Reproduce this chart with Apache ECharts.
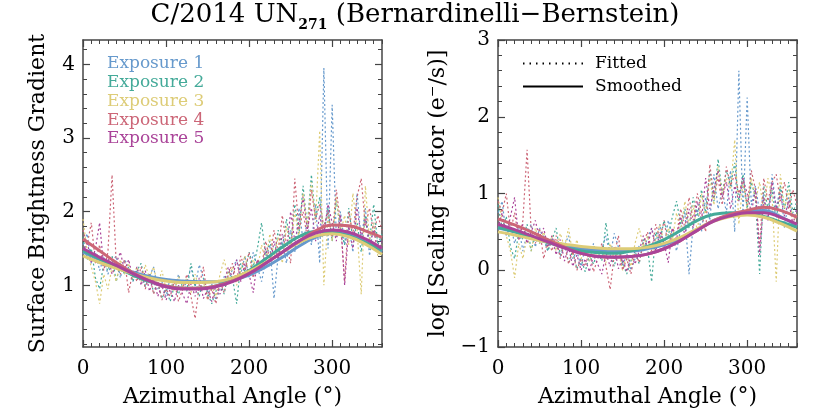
<!DOCTYPE html>
<html><head><meta charset="utf-8">
<script src="https://cdn.jsdelivr.net/npm/echarts@6/dist/echarts.min.js"></script>
<style>html,body{margin:0;padding:0;background:#fff}#c{width:830px;height:414px}</style>
</head><body><div id="c"></div>
<script>
// ---------- data ----------
const angles = [0,5,10,15,20,25,30,35,40,45,50,55,60,65,70,75,80,85,90,95,100,105,110,115,120,125,130,135,140,145,150,155,160,165,170,175,180,185,190,195,200,205,210,215,220,225,230,235,240,245,250,255,260,265,270,275,280,285,290,295,300,305,310,315,320,325,330,335,340,345,350,355,360];
const smoothAngles = [0,20,40,60,80,100,120,140,160,180,200,220,240,260,280,300,320,340,360];
const exposureNames = ['Exposure 1','Exposure 2','Exposure 3','Exposure 4','Exposure 5'];

// Left panel: surface brightness gradient, fitted (noisy)
const sbgFit1 = [1.55,1.70,1.30,1.45,1.20,1.38,1.15,1.32,1.40,1.10,
1.35,1.25,1.05,1.22,1.15,0.98,1.12,1.25,0.95,1.05,
0.85,1.10,0.92,1.15,0.95,1.05,1.25,0.98,1.28,1.10,
0.85,1.02,0.80,0.95,1.12,1.05,1.22,1.35,1.15,1.40,
1.10,1.45,1.25,1.05,1.35,1.55,0.82,1.40,1.60,1.30,
1.75,1.45,2.05,1.60,1.85,1.55,2.10,1.30,3.95,1.50,
3.45,1.65,2.00,1.55,1.80,1.45,2.25,1.60,2.05,1.40,
1.85,1.55,1.65];
const sbgFit2 = [1.65,1.35,1.50,1.10,0.95,1.30,1.20,1.40,1.05,1.30,
1.15,1.25,1.05,1.20,1.30,1.00,1.15,0.90,1.05,0.82,
0.95,0.78,1.00,0.88,1.05,0.92,1.30,1.00,0.85,1.10,
0.90,0.75,0.92,1.05,0.88,1.20,1.10,0.75,1.30,1.18,
1.45,1.25,1.50,1.85,1.40,1.60,1.35,1.75,1.50,1.90,
1.55,2.10,1.70,2.35,1.80,2.50,1.90,2.20,1.70,2.05,
1.60,2.15,1.75,1.55,2.05,1.60,1.85,1.45,1.95,1.60,
2.10,1.55,1.70];
const sbgFit3 = [1.90,1.45,1.25,1.05,0.75,1.15,0.95,1.25,1.05,1.35,
1.15,1.30,1.10,1.25,1.05,1.28,1.10,1.25,1.00,1.20,
0.95,1.08,0.92,1.12,0.98,1.10,0.90,1.15,0.95,1.05,
0.80,1.00,0.85,1.15,1.35,1.10,1.25,1.00,1.20,1.40,
1.15,1.35,1.20,1.55,1.30,1.70,1.40,1.65,1.30,1.80,
1.50,2.00,1.65,2.25,1.80,2.40,1.85,3.10,1.00,1.95,
1.60,2.20,1.70,1.95,1.55,2.25,1.75,0.88,2.35,1.60,
1.85,1.40,1.55];
const sbgFit4 = [1.75,1.55,1.85,1.30,1.55,1.20,1.45,2.50,1.30,1.15,
1.35,0.90,1.20,1.05,1.25,0.95,1.15,0.88,1.05,0.80,
0.95,0.85,1.05,0.78,0.95,1.15,0.85,0.55,1.00,1.25,
0.80,0.95,0.75,1.05,0.90,1.15,1.30,1.05,1.40,1.20,
1.45,1.10,1.35,1.25,1.60,1.35,1.75,1.45,1.95,1.55,
1.30,2.45,1.75,2.00,1.65,2.30,1.90,2.10,1.80,2.00,
1.65,2.30,1.85,1.05,2.00,1.70,2.20,2.45,1.80,2.05,
1.70,1.95,1.75];
const sbgFit5 = [1.45,1.60,1.30,1.50,1.85,1.25,1.40,1.15,1.30,1.45,
1.20,1.35,1.10,1.25,1.00,1.20,0.92,1.10,0.85,1.00,
0.80,0.95,0.78,1.00,0.88,0.75,1.02,0.85,1.10,0.82,
0.95,0.78,1.00,0.88,1.05,1.25,1.10,1.35,1.05,1.30,
1.15,0.90,1.35,1.20,1.50,1.25,1.60,1.35,1.70,1.45,
2.00,1.60,1.85,2.20,1.75,2.05,1.60,1.95,1.70,2.10,
1.85,1.60,1.95,1.00,1.80,1.50,2.05,1.65,1.90,1.55,
1.75,1.45,1.60];

// Left panel: smoothed
const sbgSm1 = [1.45,1.35,1.26,1.18,1.12,1.08,1.06,1.05,1.05,1.07,1.14,1.25,1.38,1.53,1.65,1.71,1.69,1.59,1.46];
const sbgSm2 = [1.47,1.36,1.25,1.14,1.05,0.99,0.96,0.96,0.99,1.07,1.20,1.36,1.52,1.66,1.73,1.72,1.67,1.58,1.48];
const sbgSm3 = [1.40,1.31,1.23,1.16,1.10,1.06,1.04,1.04,1.05,1.10,1.19,1.31,1.45,1.58,1.67,1.70,1.66,1.56,1.42];
const sbgSm4 = [1.63,1.47,1.31,1.17,1.06,0.99,0.96,0.96,0.99,1.06,1.16,1.30,1.45,1.60,1.74,1.82,1.81,1.74,1.65];
const sbgSm5 = [1.50,1.38,1.27,1.16,1.06,0.98,0.95,0.95,0.98,1.05,1.16,1.30,1.45,1.60,1.71,1.75,1.72,1.63,1.50];

// Right panel: log scaling factor, fitted (noisy)
const lsfFit1 = [0.75,0.90,0.45,0.60,0.35,0.55,0.25,0.48,0.60,0.30,
0.55,0.40,0.25,0.42,0.35,0.18,0.32,0.45,0.15,0.25,
0.05,0.30,0.12,0.35,0.15,0.28,0.45,0.18,0.48,0.30,
0.05,0.22,0.00,0.15,0.32,0.25,0.42,0.55,0.35,0.60,
0.30,0.65,0.45,0.25,0.55,0.75,-0.05,0.60,0.80,0.50,
0.95,0.65,1.25,0.80,1.05,0.75,1.30,0.50,2.60,0.70,
2.25,0.85,1.10,0.75,1.00,0.65,1.25,0.80,1.10,0.55,
0.95,0.70,0.80];
const lsfFit2 = [0.85,0.55,0.70,0.30,0.15,0.50,0.40,0.60,0.25,0.50,
0.35,0.45,0.25,0.40,0.55,0.20,0.35,0.10,0.25,0.02,
0.15,-0.02,0.20,0.08,0.25,0.12,0.62,0.20,0.05,0.30,
0.10,-0.05,0.12,0.25,0.08,0.40,0.30,-0.15,0.50,0.38,
0.65,0.45,0.70,0.90,0.60,0.80,0.55,0.95,0.70,1.05,
0.75,1.30,0.90,1.45,1.00,1.30,1.10,1.40,0.90,1.25,
0.80,1.15,0.95,-0.05,1.10,0.80,1.05,0.65,1.10,0.80,
1.15,0.75,0.90];
const lsfFit3 = [0.95,0.65,0.45,0.25,-0.10,0.35,0.15,0.45,0.25,0.55,
0.35,0.50,0.30,0.45,0.25,0.48,0.30,0.55,0.20,0.40,
0.15,0.28,0.12,0.32,0.18,0.30,0.10,0.35,0.15,0.25,
0.00,0.20,0.05,0.35,0.55,0.30,0.45,0.20,0.40,0.60,
0.35,0.55,0.40,0.75,0.50,0.90,0.60,0.85,0.50,1.00,
0.70,1.20,0.85,1.35,1.00,1.20,1.05,1.70,0.60,1.15,
0.80,1.20,0.90,1.15,0.75,1.20,0.95,-0.15,1.25,0.80,
1.05,0.60,0.75];
const lsfFit4 = [0.90,0.75,1.00,0.50,0.75,0.40,0.65,1.57,0.50,0.35,
0.55,0.15,0.40,0.25,0.45,0.15,0.35,0.08,0.25,0.00,
0.15,0.05,0.25,-0.02,0.15,0.35,0.05,-0.25,0.20,0.45,
0.00,0.15,-0.05,0.25,0.10,0.35,0.50,0.25,0.60,0.40,
0.65,0.30,0.55,0.45,0.80,0.55,0.95,0.65,1.00,0.75,
0.50,1.38,0.95,1.20,0.85,1.35,1.10,1.25,1.00,1.20,
0.85,1.30,1.05,0.30,1.20,0.90,1.15,1.25,0.90,1.15,
0.80,1.05,0.85];
const lsfFit5 = [0.55,0.75,0.45,0.70,0.95,0.40,0.60,0.35,0.50,0.65,
0.40,0.55,0.30,0.45,0.20,0.40,0.12,0.30,0.05,0.20,
0.00,0.15,-0.02,0.20,0.08,-0.05,0.22,0.05,0.30,0.02,
0.15,-0.02,0.20,0.08,0.25,0.45,0.30,0.55,0.25,0.50,
0.35,0.10,0.55,0.40,0.70,0.45,0.80,0.55,0.90,0.65,
1.20,0.80,1.05,1.30,0.95,1.15,0.80,1.10,0.90,1.20,
1.00,0.75,1.05,0.20,0.95,0.65,1.15,0.80,1.00,0.70,
0.90,0.60,0.80];

// Right panel: smoothed
const lsfSm1 = [0.55,0.50,0.43,0.37,0.32,0.28,0.26,0.25,0.25,0.28,0.33,0.42,0.53,0.65,0.72,0.77,0.78,0.70,0.58];
const lsfSm2 = [0.56,0.50,0.43,0.36,0.30,0.25,0.23,0.22,0.25,0.31,0.40,0.52,0.65,0.73,0.75,0.74,0.70,0.63,0.56];
const lsfSm3 = [0.50,0.46,0.41,0.37,0.34,0.31,0.29,0.28,0.28,0.30,0.35,0.43,0.54,0.64,0.70,0.72,0.69,0.61,0.51];
const lsfSm4 = [0.67,0.59,0.50,0.40,0.30,0.22,0.18,0.17,0.18,0.21,0.28,0.39,0.52,0.65,0.73,0.78,0.82,0.78,0.69];
const lsfSm5 = [0.60,0.53,0.45,0.37,0.29,0.22,0.18,0.17,0.18,0.21,0.28,0.39,0.52,0.64,0.71,0.75,0.75,0.69,0.60];

const xTicks = [0,100,200,300];
const leftYTicks = [1,2,3,4];
const rightYTicks = [-1,0,1,2,3];

// ---------- styling ----------
const colors = ['#6699CC','#44AA99','#DDCC77','#CC6677','#AA4499'];
const FONT = 'DejaVu Serif';
const AX = '#444';
const leftFit = [sbgFit1,sbgFit2,sbgFit3,sbgFit4,sbgFit5];
const leftSm = [sbgSm1,sbgSm2,sbgSm3,sbgSm4,sbgSm5];
const rightFit = [lsfFit1,lsfFit2,lsfFit3,lsfFit4,lsfFit5];
const rightSm = [lsfSm1,lsfSm2,lsfSm3,lsfSm4,lsfSm5];

const L = {left:83, top:40, width:299, height:307};
const R = {left:498, top:40, width:299, height:307};
const grids = [L, L, R, R].map(g => Object.assign({outerBoundsMode:'none', containLabel:false}, g));

const leftMin = 0.163, leftMax = 4.33;
const leftMinor = []; for (let v = 0.2; v < 4.3; v += 0.2) leftMinor.push(+v.toFixed(1));

function xMain(gi, pos, withLabel) {
  return {
    gridIndex: gi, type:'value', position: pos, min:0, max:360,
    axisLine:{show:true, onZero:false, lineStyle:{color:AX, width:1.5}},
    axisTick:{show:true, inside:true, length:7, customValues:xTicks, lineStyle:{color:AX, width:1.2}},
    axisLabel:{show:withLabel, customValues:xTicks, fontFamily:FONT, fontSize:20, color:'#000', margin:12},
    splitLine:{show:false},
    name: withLabel ? 'Azimuthal Angle (°)' : '', nameLocation:'middle', nameGap:39,
    nameTextStyle:{fontFamily:FONT, fontSize:22, color:'#000'}
  };
}
function xMinor(gi, pos) {
  return {
    gridIndex: gi, type:'value', position: pos, min:0, max:360, interval:10,
    axisLine:{show:false, onZero:false}, axisLabel:{show:false}, splitLine:{show:false},
    axisTick:{show:true, inside:true, length:4, lineStyle:{color:AX, width:1}}
  };
}
const minusFmt = v => String(v).replace('-', '\u2212');
function yMain(gi, pos, side, withLabel) {
  const isLeft = side === 'L';
  const base = {
    gridIndex: gi, type:'value', position: pos,
    axisLine:{show:true, onZero:false, lineStyle:{color:AX, width:1.5}},
    splitLine:{show:false},
    nameLocation:'middle',
    nameTextStyle:{fontFamily:FONT, fontSize:22, color:'#000'}
  };
  if (isLeft) {
    Object.assign(base, {
      min:leftMin, max:leftMax,
      axisTick:{show:true, inside:true, length:7, customValues:leftYTicks, lineStyle:{color:AX, width:1.2}},
      axisLabel:{show:withLabel, customValues:leftYTicks, fontFamily:FONT, fontSize:20, color:'#000', margin:8},
      name: withLabel ? 'Surface Brightness Gradient' : '', nameGap:34
    });
  } else {
    Object.assign(base, {
      min:-1, max:3, interval:1,
      axisTick:{show:true, inside:true, length:7, lineStyle:{color:AX, width:1.2}},
      axisLabel:{show:withLabel, customValues:rightYTicks, formatter:minusFmt, fontFamily:FONT, fontSize:20, color:'#000', margin:8},
      name: withLabel ? 'log [Scaling Factor (e\u207B/s)]' : '', nameGap:49
    });
  }
  return base;
}
function yMinor(gi, pos, side) {
  const o = {
    gridIndex: gi, type:'value', position: pos,
    axisLine:{show:false, onZero:false}, axisLabel:{show:false}, splitLine:{show:false},
    axisTick:{show:true, inside:true, length:4, lineStyle:{color:AX, width:1}}
  };
  if (side === 'L') { o.min = leftMin; o.max = leftMax; o.axisTick.customValues = leftMinor; }
  else { o.min = -1; o.max = 3; o.interval = 0.2; }
  return o;
}

const xAxis = [
  xMain(0,'bottom',true), xMain(0,'top',false),
  xMinor(1,'bottom'), xMinor(1,'top'),
  xMain(2,'bottom',true), xMain(2,'top',false),
  xMinor(3,'bottom'), xMinor(3,'top')
];
const yAxis = [
  yMain(0,'left','L',true), yMain(0,'right','L',false),
  yMinor(1,'left','L'), yMinor(1,'right','L'),
  yMain(2,'left','R',true), yMain(2,'right','R',false),
  yMinor(3,'left','R'), yMinor(3,'right','R')
];

const series = [];
function addPanel(fit, sm, axIdx) {
  fit.forEach((arr, i) => series.push({
    type:'line', name: exposureNames[i], xAxisIndex:axIdx, yAxisIndex:axIdx,
    data: angles.map((a, k) => [a, arr[k]]), symbol:'none', silent:true,
    lineStyle:{color:colors[i], width:1.2, type:[2,2.5]}, itemStyle:{color:colors[i]}, z:2
  }));
  sm.forEach((arr, i) => series.push({
    type:'line', name: exposureNames[i], xAxisIndex:axIdx, yAxisIndex:axIdx,
    data: smoothAngles.map((a, k) => [a, arr[k]]), symbol:'none', smooth:0.45, silent:true,
    lineStyle:{color:colors[i], width:3}, itemStyle:{color:colors[i]}, z:3
  }));
}
addPanel(leftFit, leftSm, 0);
addPanel(rightFit, rightSm, 4);
// legend-only series for the line-style key
series.push({type:'line', name:'Fitted', xAxisIndex:4, yAxisIndex:4, data:[], symbol:'none',
  lineStyle:{color:'#000', width:1.2, type:[1.5,5]}, itemStyle:{color:'#000'}});
series.push({type:'line', name:'Smoothed', xAxisIndex:4, yAxisIndex:4, data:[], symbol:'none',
  lineStyle:{color:'#000', width:3}, itemStyle:{color:'#000'}});

const option = {
  animation:false,
  backgroundColor:'#fff',
  title:{
    text:'C/2014 UN{sub|271} (Bernardinelli\u2212Bernstein)',
    left:'center', top:-2, padding:0,
    textStyle:{fontFamily:FONT, fontSize:26, fontWeight:'normal', color:'#000', lineHeight:34,
      rich:{sub:{fontFamily:FONT, fontSize:14, fontWeight:'bold', color:'#000', verticalAlign:'bottom', lineHeight:14}}}
  },
  grid: grids,
  xAxis, yAxis,
  legend:[
    {orient:'vertical', left:102, top:54, padding:0, itemWidth:0, itemHeight:0, itemGap:0, selectedMode:false, icon:'rect',
     textStyle:{fontFamily:FONT, fontSize:17, lineHeight:18.9},
     data: exposureNames.map((n,i) => ({name:n, textStyle:{color:colors[i]}}))},
    {orient:'vertical', left:522, top:55, padding:0, itemWidth:60, itemHeight:12, itemGap:6, selectedMode:false,
     itemStyle:{opacity:0, borderWidth:0},
     textStyle:{fontFamily:FONT, fontSize:17, color:'#000', padding:[0,0,0,7]},
     data:['Fitted','Smoothed']}
  ],
  series
};
const chart = echarts.init(document.getElementById('c'), null, {renderer:'canvas'});
chart.setOption(option);
</script></body></html>
